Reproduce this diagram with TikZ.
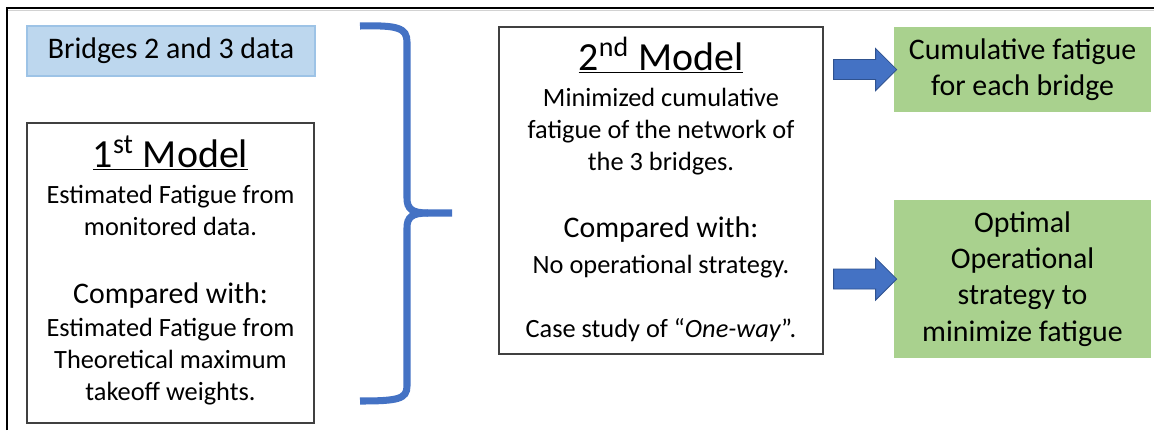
\documentclass[tikz,border=0pt]{standalone}
\usepackage{fontspec}
\setmainfont{Carlito}

\definecolor{bracecol}{HTML}{4472C4}
\definecolor{arrowline}{HTML}{2F528F}
\definecolor{datafill}{HTML}{BDD7EE}
\definecolor{dataline}{HTML}{9DC3E6}
\definecolor{resfill}{HTML}{A9D18E}
\definecolor{boxline}{HTML}{404040}

\newcommand{\bigtxt}{\fontsize{17}{20.6}\selectfont}
\newcommand{\smalltxt}{\fontsize{15}{18.1}\selectfont}
\newcommand{\titletxt}{\fontsize{22.7}{27}\selectfont}

\begin{document}
\begin{tikzpicture}[x=0.02cm,y=-0.02cm,
        modelbox/.style={draw=boxline,line width=0.75pt,inner sep=0pt},
        databox/.style={draw=dataline,fill=datafill,line width=0.75pt,font=\bigtxt},
        resultbox/.style={fill=resfill,align=center,font=\bigtxt},
        titletext/.style={anchor=base,font=\titletxt},
        bigtext/.style={anchor=base,align=center,font=\bigtxt},
        smalltext/.style={anchor=base,align=center,font=\smalltxt},
        brace/.style={draw=bracecol,line width=4pt},
        blockarrow/.pic={\filldraw[fill=bracecol,draw=arrowline,line width=0.5pt]
                (0,-10) -- (42,-10) -- (42,-21) -- (63,0) -- (42,21) -- (42,10) -- (0,10) -- cycle;}]
        \useasboundingbox (0,0) rectangle (1154,430);
        % frame
        \draw[line width=1.2pt] (7,430) -- (7,8) -- (1154,8);
        \draw[gray!35,line width=0.6pt] (8,10.5) -- (1154,10.5);
        % input data and first model (text nodes sit on the baseline of their last line)
        \node[databox,minimum width=5.76cm,minimum height=1cm] (data) at (171,51) {Bridges 2 and 3 data};
        \node[modelbox,minimum width=5.74cm,minimum height=6cm] (m1) at (170.5,273) {};
        \node[titletext] (t1) at (170.5,167) {\underline{1\textsuperscript{st} Model}};
        \node[smalltext] (e1) at (170.5,235) {Estimated Fatigue from\\monitored data.};
        \node[bigtext] (c1) at (170.5,303) {Compared with:};
        \node[smalltext] (e2) at (170.5,400) {Estimated Fatigue from\\Theoretical maximum\\takeoff weights.};
        % brace
        \draw[brace] (360,26) .. controls (398,25) and (407,28) .. (407,42) -- (407,198)
                .. controls (407,209) and (412,213) .. (428,213) -- (452,213);
        \draw[brace] (428,213) .. controls (412,213) and (407,217) .. (407,228) -- (407,386)
                .. controls (407,399) and (398,401) .. (360,401);
        % second model
        \node[modelbox,minimum width=6.48cm,minimum height=6.54cm] (m2) at (661,190.5) {};
        \node[titletext] (t2) at (661,70) {\underline{2\textsuperscript{nd} Model}};
        \node[smalltext] (n1) at (661,170) {Minimized cumulative\\fatigue of the network of\\the 3 bridges.};
        \node[bigtext] (c2) at (661,237) {Compared with:};
        \node[smalltext] (n2) at (661,273) {No operational strategy.};
        \node[smalltext] (n3) at (661,337) {Case study of ``\textit{One-way}''.};
        % results
        \node[resultbox,minimum width=5.14cm,minimum height=1.7cm] (g1) at (1022.5,69.5) {Cumulative fatigue\\for each bridge};
        \node[resultbox,minimum width=5.14cm,minimum height=3.16cm] (g2) at (1022.5,279) {Optimal\\Operational\\strategy to\\minimize fatigue};
        \foreach \res in {g1,g2}
        \path (m2.east |- \res.west) ++(10,0) pic {blockarrow};
\end{tikzpicture}
\end{document}
